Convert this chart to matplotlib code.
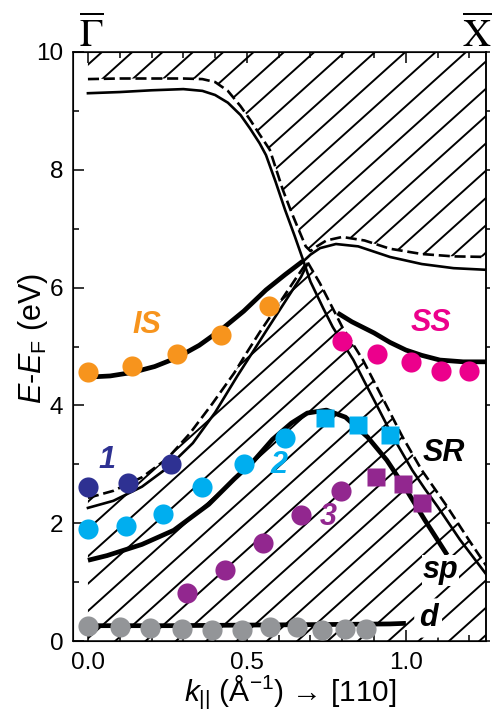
import numpy as np
import matplotlib
matplotlib.use('Agg')
import matplotlib.pyplot as plt
from matplotlib.path import Path
from matplotlib.patches import PathPatch
from matplotlib.ticker import MultipleLocator

plt.rcParams['font.family'] = ['Liberation Sans', 'DejaVu Sans']
plt.rcParams['mathtext.fontset'] = 'custom'
plt.rcParams['mathtext.rm'] = 'Liberation Sans'
plt.rcParams['mathtext.it'] = 'Liberation Sans:italic'
plt.rcParams['mathtext.bf'] = 'Liberation Sans:bold'

# ---------------- data ----------------
# projected bulk bands: upper solid band falling through the crossing
band_top_x = [0, 0.10, 0.20, 0.30, 0.36, 0.40, 0.44, 0.48, 0.51, 0.54, 0.56, 0.59, 0.62, 0.65,
              0.676, 0.70, 0.74, 0.77, 0.80, 0.835, 0.87, 0.90, 0.96, 1.02, 1.06, 1.10, 1.17, 1.26]
band_top_y = [9.30, 9.32, 9.35, 9.37, 9.34, 9.27, 9.14, 8.93, 8.70, 8.45, 8.25, 7.80, 7.32, 6.88,
              6.48, 6.10, 5.65, 5.33, 5.07, 4.77, 4.40, 4.09, 3.46, 2.90, 2.58, 2.28, 1.72, 1.08]
# upper gap edge (dashed)
dash_top_x = [0, 0.10, 0.20, 0.30, 0.36, 0.40, 0.44, 0.48, 0.51, 0.54, 0.572, 0.613, 0.64, 0.667,
              0.685, 0.70, 0.72, 0.75, 0.80, 0.87, 0.95, 1.05, 1.15, 1.26]
dash_top_y = [9.54, 9.55, 9.55, 9.55, 9.54, 9.49, 9.34, 9.08, 8.85, 8.60, 8.34, 7.66, 7.28, 6.93,
              6.70, 6.62, 6.70, 6.80, 6.86, 6.80, 6.66, 6.57, 6.53, 6.52]
# solid band continuing to the right of the crossing
band_right_x = [0.676, 0.70, 0.73, 0.78, 0.85, 0.95, 1.05, 1.15, 1.26]
band_right_y = [6.44, 6.56, 6.67, 6.74, 6.70, 6.52, 6.40, 6.33, 6.30]
# lower gap edge rising (dashed) and its solid companion
dash_low_x = [0, 0.08, 0.17, 0.25, 0.32, 0.39, 0.46, 0.50, 0.54, 0.60, 0.657, 0.69]
dash_low_y = [2.43, 2.55, 2.78, 3.10, 3.52, 4.02, 4.55, 4.90, 5.24, 5.72, 6.18, 6.44]
band_low_x = [0, 0.08, 0.17, 0.25, 0.33, 0.40, 0.47, 0.52, 0.56, 0.615, 0.67, 0.69]
band_low_y = [2.26, 2.38, 2.62, 2.94, 3.36, 3.88, 4.50, 4.92, 5.26, 5.72, 6.18, 6.40]
# lower gap edge falling (dashed)
dash_desc_x = [0.69, 0.73, 0.80, 0.865, 0.93, 0.99, 1.05, 1.13, 1.20, 1.26]
dash_desc_y = [6.44, 6.07, 5.33, 4.77, 4.09, 3.46, 2.90, 2.28, 1.70, 1.22]

# surface states (thick lines)
is_x = [0, 0.07, 0.14, 0.21, 0.28, 0.35, 0.42, 0.49, 0.56, 0.62, 0.676]
is_y = [4.48, 4.50, 4.56, 4.66, 4.81, 5.02, 5.29, 5.60, 5.96, 6.22, 6.45]
ss_x = [0.785, 0.83, 0.90, 0.95, 1.00, 1.05, 1.107, 1.18, 1.26]
ss_y = [5.57, 5.42, 5.23, 5.07, 4.94, 4.85, 4.77, 4.74, 4.74]
sr_x = [0, 0.06, 0.17, 0.27, 0.38, 0.46, 0.52, 0.58, 0.64, 0.69, 0.75, 0.81, 0.88, 0.94, 1.00, 1.06, 1.13]
sr_y = [1.37, 1.45, 1.64, 1.88, 2.32, 2.75, 3.05, 3.42, 3.70, 3.87, 3.92, 3.80, 3.46, 3.07, 2.58, 2.05, 1.46]
d_x = [0, 0.25, 0.50, 0.75, 0.95, 1.00]
d_y = [0.26, 0.26, 0.27, 0.28, 0.29, 0.30]

# measured points
is_pts_x = [0.0, 0.14, 0.28, 0.42, 0.57]
is_pts_y = [4.57, 4.67, 4.87, 5.19, 5.69]
ss_pts_x = [0.80, 0.91, 1.015, 1.11, 1.20]
ss_pts_y = [5.09, 4.87, 4.74, 4.59, 4.59]
s1_x = [0.0, 0.125, 0.26]
s1_y = [2.61, 2.69, 3.00]
s2_x = [0.0, 0.12, 0.235, 0.36, 0.49, 0.62]
s2_y = [1.90, 1.95, 2.16, 2.61, 3.00, 3.45]
s2_sq_x = [0.745, 0.85, 0.95]
s2_sq_y = [3.78, 3.67, 3.50]
s3_x = [0.31, 0.43, 0.55, 0.67, 0.795]
s3_y = [0.81, 1.21, 1.66, 2.14, 2.54]
s3_sq_x = [0.905, 0.99, 1.05]
s3_sq_y = [2.79, 2.66, 2.34]
d_pts_x = [0.0, 0.10, 0.195, 0.296, 0.39, 0.484, 0.572, 0.657, 0.736, 0.808, 0.874]
d_pts_y = [0.25, 0.24, 0.22, 0.20, 0.18, 0.18, 0.24, 0.24, 0.19, 0.20, 0.20]

C_IS = '#F7941D'
C_SS = '#EC008C'
C_1 = '#2E3192'
C_2 = '#00AEEF'
C_3 = '#92278F'
C_D = '#939598'

# ---------------- figure ----------------
W, H = 492, 725
fig = plt.figure(figsize=(W / 100, H / 100), dpi=100)
L, R, T, B = 73, 486, 52, 641
ax = fig.add_axes([L / W, 1 - B / H, (R - L) / W, (B - T) / H])
ax.set_xlim(-0.047, 1.252)
ax.set_ylim(0, 10)

# hatched regions (projected bulk bands)
up_x = [0] + dash_top_x + [1.3, 1.3, 0]
up_y = [10.5] + dash_top_y + [dash_top_y[-1], 10.5, 10.5]
lo_x = [0, 0] + dash_low_x + dash_desc_x + [1.3, 1.3, 0]
lo_y = [-0.5, dash_low_y[0]] + dash_low_y + dash_desc_y + [dash_desc_y[-1], -0.5, -0.5]
patches = []
for px, py in [(up_x, up_y), (lo_x, lo_y)]:
    p = PathPatch(Path(np.column_stack([px, py])), facecolor='none', edgecolor='none',
                  transform=ax.transData)
    ax.add_patch(p)
    patches.append(p)

th = np.deg2rad(42)
dvec = np.array([np.cos(th), np.sin(th)])
nvec = np.array([-np.sin(th), np.cos(th)])
anchor = np.array([102.0, H - 52.0])
spacing = 20.3
inv = ax.transData.inverted()
for k in range(-70, 70):
    base = anchor + k * spacing * nvec
    pts = inv.transform(np.array([base - 1500 * dvec, base + 1500 * dvec]))
    for p in patches:
        ln, = ax.plot(pts[:, 0], pts[:, 1], color='k', lw=1.4, zorder=1,
                      solid_capstyle='butt')
        ln.set_clip_path(p)

dash = (0, (4.2, 1.8))
thin = 1.9
thick = 3.4
ax.plot(band_top_x, band_top_y, color='k', lw=thin, zorder=2, solid_joinstyle='round')
ax.plot(band_right_x, band_right_y, color='k', lw=thin, zorder=2, solid_joinstyle='round')
ax.plot(band_low_x, band_low_y, color='k', lw=thin, zorder=2, solid_joinstyle='round')
ax.plot(dash_top_x, dash_top_y, color='k', lw=thin, ls=dash, zorder=2)
ax.plot(dash_low_x + dash_desc_x, dash_low_y + dash_desc_y, color='k', lw=thin, ls=dash, zorder=2)
for xs, ys in [(is_x, is_y), (ss_x, ss_y), (sr_x, sr_y), (d_x, d_y)]:
    ax.plot(xs, ys, color='k', lw=thick, zorder=2, solid_capstyle='butt',
            solid_joinstyle='round')

ms = 14.5
msq = 12.5
ax.plot(is_pts_x, is_pts_y, 'o', color=C_IS, ms=ms, mec='none', zorder=3, clip_on=False)
ax.plot(ss_pts_x, ss_pts_y, 'o', color=C_SS, ms=ms, mec='none', zorder=3, clip_on=False)
ax.plot(s1_x, s1_y, 'o', color=C_1, ms=ms, mec='none', zorder=3)
ax.plot(s2_x, s2_y, 'o', color=C_2, ms=ms, mec='none', zorder=3)
ax.plot(s2_sq_x, s2_sq_y, 's', color=C_2, ms=msq, mec='none', zorder=3)
ax.plot(s3_x, s3_y, 'o', color=C_3, ms=ms, mec='none', zorder=3)
ax.plot(s3_sq_x, s3_sq_y, 's', color=C_3, ms=msq, mec='none', zorder=3)
ax.plot(d_pts_x, d_pts_y, 'o', color=C_D, ms=ms, mec='none', zorder=3)

lab = dict(fontsize=22, fontweight='bold', fontstyle='italic', ha='center', va='center', zorder=4)
ax.text(0.185, 5.37, 'IS', color=C_IS, **lab)
ax.text(0.06, 3.07, '1', color=C_1, **lab)
ax.text(0.60, 2.99, '2', color=C_2, **lab)
ax.text(0.755, 2.10, '3', color=C_3, **lab)
ax.text(1.08, 5.40, 'SS', color=C_SS, **lab)
ax.text(1.12, 3.19, 'SR', color='k', **lab)
ax.text(1.11, 1.20, 'sp', color='k', bbox=dict(fc='white', ec='none', pad=0.5), **lab)
ax.text(1.07, 0.39, 'd', color='k', bbox=dict(boxstyle='round,pad=0.15', fc='white', ec='none'), **lab)

# axes styling
for s in ax.spines.values():
    s.set_linewidth(1.1)
ax.xaxis.set_major_locator(MultipleLocator(0.5))
ax.xaxis.set_minor_locator(MultipleLocator(0.1))
ax.yaxis.set_major_locator(MultipleLocator(2))
ax.yaxis.set_minor_locator(MultipleLocator(1))
ax.xaxis.set_major_formatter(matplotlib.ticker.FormatStrFormatter('%.1f'))
ax.tick_params(which='major', direction='in', length=8, width=1.1, labelsize=17.5,
               top=True, right=False, pad=8)
ax.tick_params(which='minor', direction='in', length=4, width=1.1, top=True, right=False)
ax.tick_params(axis='y', which='major', pad=7)

axr = ax.twinx()
axr.set_ylim(0, 10)
axr.yaxis.set_major_locator(MultipleLocator(1))
axr.tick_params(axis='y', direction='out', length=3, width=1.1, labelright=False)
axr.spines['right'].set_linewidth(1.1)

ax.text(-0.098, 0.513, r'$E$-$E_{\rm F}$ (eV)', transform=ax.transAxes, rotation=90,
        ha='center', va='center', fontsize=22)
ax.text(0.525, -0.087, r'$k_{||}$ (Å$^{-1}$) → [110]', transform=ax.transAxes,
        ha='center', va='center', fontsize=21.5)

ax.text(0.044, 1.0085, r'$\overline{\Gamma}$', transform=ax.transAxes, ha='center',
        va='baseline', fontsize=28, math_fontfamily='stix')
ax.text(0.978, 1.0085, r'$\overline{\mathrm{X}}$', transform=ax.transAxes, ha='center',
        va='baseline', fontsize=28, math_fontfamily='stix')

fig.savefig('out.png', dpi=100)
